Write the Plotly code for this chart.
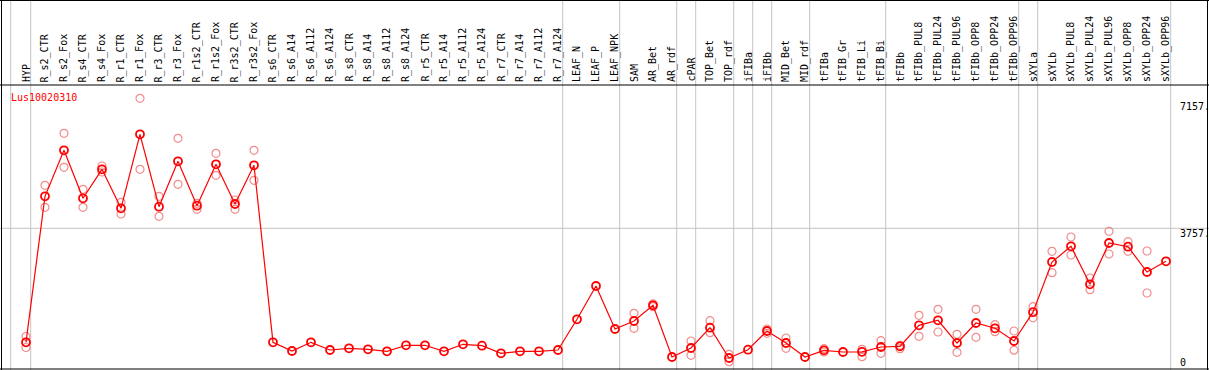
import plotly.graph_objects as go

categories = ["HYP", "R_s2_CTR", "R_s2_Fox", "R_s4_CTR", "R_s4_Fox", "R_r1_CTR", "R_r1_Fox",
              "R_r3_CTR", "R_r3_Fox", "R_r1s2_CTR", "R_r1s2_Fox", "R_r3s2_CTR", "R_r3s2_Fox",
              "R_s6_CTR", "R_s6_A14", "R_s6_A112", "R_s6_A124", "R_s8_CTR", "R_s8_A14",
              "R_s8_A112", "R_s8_A124", "R_r5_CTR", "R_r5_A14", "R_r5_A112", "R_r5_A124",
              "R_r7_CTR", "R_r7_A14", "R_r7_A112", "R_r7_A124", "LEAF_N", "LEAF_P", "LEAF_NPK",
              "SAM", "AR_Bet", "AR_rdf", "cPAR", "TOP_Bet", "TOP_rdf", "iFIBa", "iFIBb",
              "MID_Bet", "MID_rdf", "tFIBa", "tFIB_Gr", "tFIB_Li", "tFIB_Bi", "tFIBb",
              "tFIBb_PUL8", "tFIBb_PUL24", "tFIBb_PUL96", "tFIBb_OPP8", "tFIBb_OPP24",
              "tFIBb_OPP96", "sXYLa", "sXYLb", "sXYLb_PUL8", "sXYLb_PUL24", "sXYLb_PUL96",
              "sXYLb_OPP8", "sXYLb_OPP24", "sXYLb_OPP96"]

mean_values = [775, 4594, 5797, 4542, 5300, 4280, 6215, 4322, 5509, 4348, 5431, 4393, 5405,
               775, 548, 775, 574, 619, 592, 540, 697, 697, 540, 723, 687, 488, 540, 540, 574,
               1377, 2248, 1123, 1333, 1743, 391, 626, 1157, 365, 582, 1071, 757, 391, 566,
               522, 527, 653, 671, 1220, 1351, 757, 1280, 1142, 809, 1563, 2876, 3286, 2292,
               3373, 3276, 2614, 2894]

rep1_values = [927, 4882, 6242, 4777, 5386, 4437, 7157, 4594, 6111, 4411, 5719, 4497, 5797,
               None, None, None, None, None, None, None, None, None, None, None, None, None,
               None, None, None, None, None, None, 1534, 1780, None, 809, 1340, 462, None,
               1123, 888, None, 608, None, 592, 817, 697, 1482, 1639, 985, 1639, 1236, 1071,
               1707, 3155, 3529, 2457, 3679, 3407, 3163, None]

rep2_values = [639, 4306, 5352, 4306, 5229, 4131, 5300, 4071, 4908, 4254, 5143, 4254, 5012,
               None, None, None, None, None, None, None, None, None, None, None, None, None,
               None, None, None, None, None, None, 1142, 1706, None, 435, 1027, 268, None,
               1011, 619, None, 522, None, 399, 488, 608, 932, 1045, 514, 906, 1053, 569,
               1416, 2596, 3059, 2151, 3085, 3155, 2065, None]

gene_name = "Lus10020310"
max_label = "7157."
mid_label = "3757."
min_label = "0"
mid_value = 3757
# index of the last category of each group (a separator follows it)
group_ends = [0, 28, 31, 34, 35, 37, 38, 39, 41, 45, 52, 53, 60]

W, H = 1209, 370
MONO = "DejaVu Sans Mono"
xs = list(range(len(categories)))

fig = go.Figure()
for reps in (rep1_values, rep2_values):
    fig.add_trace(go.Scatter(
        x=xs, y=reps, mode="markers",
        marker=dict(symbol="circle-open", size=8, color="#f08c8c", line=dict(width=1.2, color="#f08c8c")),
        hoverinfo="skip", showlegend=False))
fig.add_trace(go.Scatter(
    x=xs, y=mean_values, mode="lines+markers",
    line=dict(color="#ff0000", width=1.2),
    marker=dict(symbol="circle-open", size=8, color="#ff0000", line=dict(width=1.8, color="#ff0000")),
    showlegend=False))

def px_x(p):
    return p / W

def px_y(p):
    return 1 - p / H

shapes = []
# vertical group separators
sep_positions = [-0.805] + [g + 0.247 for g in group_ends]
for s in sep_positions:
    shapes.append(dict(type="line", xref="x", yref="paper", x0=s, x1=s, y0=0, y1=1,
                       line=dict(color="#c4c4c4", width=1), layer="below"))
# mid horizontal line
shapes.append(dict(type="line", xref="paper", yref="y", x0=0, x1=1, y0=mid_value, y1=mid_value,
                   line=dict(color="#c4c4c4", width=1), layer="below"))
# black frame
for (x0, y0, x1, y1) in [(0, 0.5, W, 0.5), (0, 85, W, 85), (0, 369, W, 369),
                         (1.5, 0, 1.5, H), (1207.5, 0, 1207.5, H)]:
    shapes.append(dict(type="line", xref="paper", yref="paper",
                       x0=px_x(x0), x1=px_x(x1), y0=px_y(y0), y1=px_y(y1),
                       line=dict(color="#000000", width=1)))

annotations = []
for i, c in enumerate(categories):
    annotations.append(dict(x=i, xref="x", y=px_y(84), yref="paper", text=c, textangle=-90,
                            showarrow=False, xanchor="center", yanchor="bottom",
                            font=dict(family=MONO, size=10, color="#000000")))
annotations.append(dict(x=px_x(9), y=px_y(97), xref="paper", yref="paper", text=gene_name,
                        showarrow=False, xanchor="left", yanchor="middle",
                        font=dict(family=MONO, size=10, color="#ff0000")))
for txt, py in [(max_label, 107), (mid_label, 233), (min_label, 362)]:
    annotations.append(dict(x=px_x(1178), y=px_y(py), xref="paper", yref="paper", text=txt,
                            showarrow=False, xanchor="left", yanchor="middle",
                            font=dict(family=MONO, size=10, color="#000000")))

fig.update_layout(
    width=W, height=H, margin=dict(l=0, r=0, t=0, b=0, pad=0),
    paper_bgcolor="#ffffff", plot_bgcolor="#ffffff",
    xaxis=dict(visible=False, range=[-1.368, 62.263]),
    yaxis=dict(visible=False, range=[51, 9728]),
    shapes=shapes, annotations=annotations,
)
fig.write_html("out.html", config={"displayModeBar": False},
               post_script="document.body.style.margin='0';document.body.style.overflow='hidden';")
